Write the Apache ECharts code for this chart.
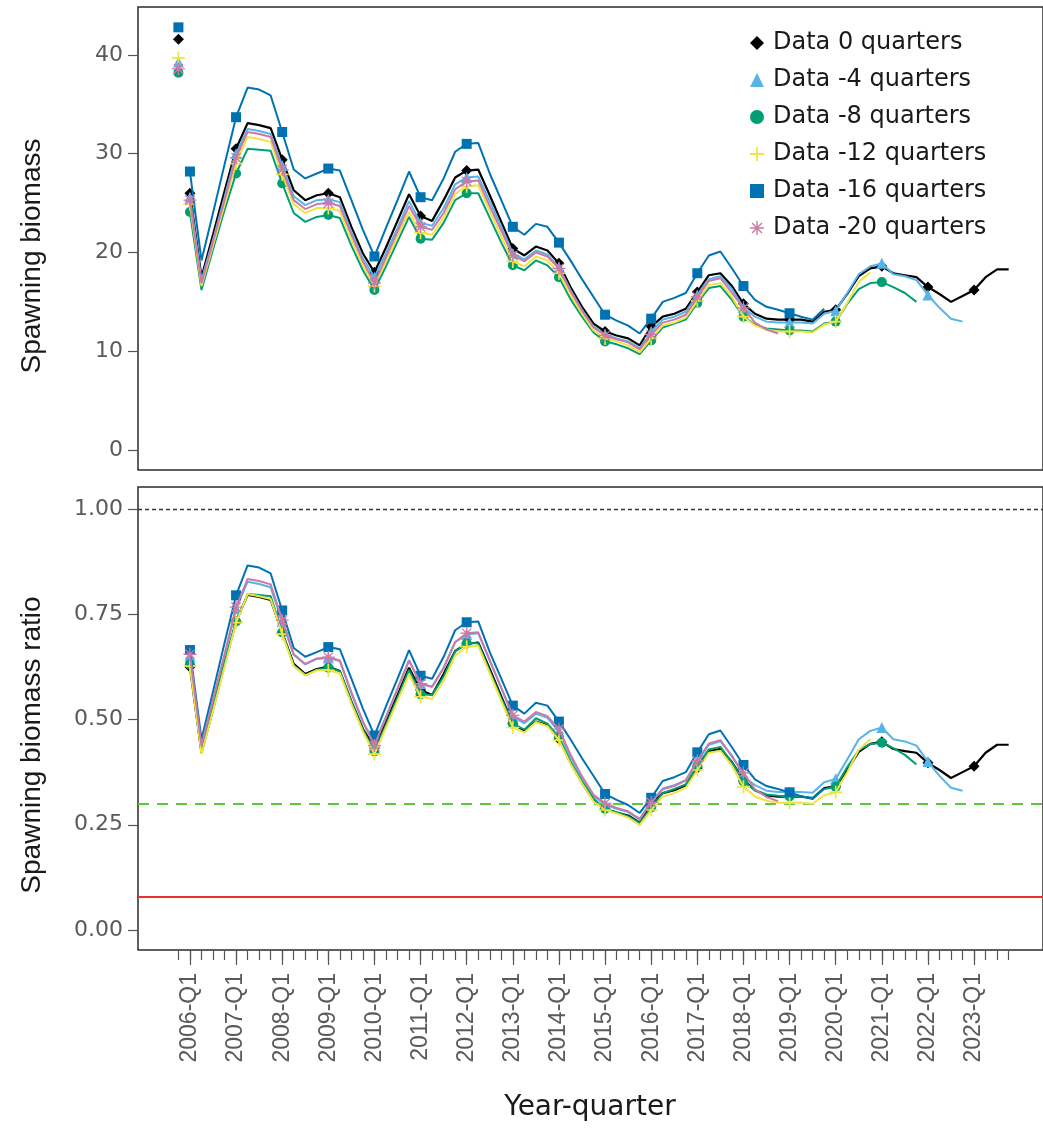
<!DOCTYPE html>
<html>
<head>
<meta charset="utf-8">
<script src="https://cdn.jsdelivr.net/npm/echarts@6/dist/echarts.min.js"></script>
<style>
  html, body { margin: 0; padding: 0; background: #ffffff; }
  #chart { width: 1043px; height: 1131px; }
</style>
</head>
<body>
<div id="chart"></div>
<script>
// ---- time axis: the unfished point sits one quarter before 2006-Q1 ----
const years = [2006, 2007, 2008, 2009, 2010, 2011, 2012, 2013, 2014, 2015,
               2016, 2017, 2018, 2019, 2020, 2021, 2022, 2023];
const quarters = ['2005-Q4'].concat(years.flatMap(y => [1, 2, 3, 4].map(q => y + '-Q' + q)));

const runNames  = ['Data 0 quarters', 'Data -4 quarters', 'Data -8 quarters',
                   'Data -12 quarters', 'Data -16 quarters', 'Data -20 quarters'];
const runColors = ['#000000', '#56B4E9', '#009E73', '#F0E442', '#0072B2', '#CC79A7'];

// unfished spawning biomass of each run
const virginSB = [41.6, 39.3, 38.2, 39.7, 42.8, 38.6];

// spawning biomass, quarterly from 2006-Q1
const sb_0 = [26.0, 17.5, 21.8, 26.2, 30.5, 33.1, 32.9, 32.6, 29.4, 26.3, 25.3, 25.8,
  26.0, 25.6, 22.6, 19.9, 18.0, 20.5, 23.2, 25.9, 23.7, 23.2, 25.3, 27.6,
  28.3, 28.4, 25.8, 23.1, 20.4, 19.7, 20.6, 20.2, 18.9, 16.5, 14.5, 12.8,
  12.0, 11.6, 11.3, 10.6, 12.5, 13.5, 13.8, 14.3, 16.0, 17.7, 17.9, 16.6,
  14.8, 13.8, 13.3, 13.2, 13.2, 13.2, 13.0, 14.0, 14.2, 15.8, 17.6, 18.4,
  18.6, 17.9, 17.7, 17.5, 16.5, 15.8, 15.0, 15.6, 16.2, 17.5, 18.3, 18.3];
const sb_m4 = [25.6, 17.2, 21.3, 25.6, 30.0, 32.5, 32.3, 32.0, 28.8, 25.7, 24.8, 25.3,
  25.4, 25.1, 22.1, 19.4, 17.5, 19.9, 22.5, 25.2, 23.0, 22.7, 24.5, 26.9,
  27.6, 27.7, 25.2, 22.6, 19.9, 19.3, 20.2, 19.8, 18.5, 16.2, 14.2, 12.5,
  11.7, 11.3, 11.0, 10.3, 12.0, 13.2, 13.5, 14.0, 15.7, 17.3, 17.6, 16.3,
  14.4, 13.5, 13.0, 12.9, 12.9, 12.9, 12.8, 13.8, 14.1, 15.9, 17.8, 18.6,
  18.9, 17.8, 17.6, 17.2, 15.7, 14.4, 13.3, 13.0];
const sb_m8 = [24.1, 16.2, 20.3, 24.3, 28.0, 30.5, 30.4, 30.3, 27.0, 24.0, 23.1, 23.6,
  23.8, 23.5, 20.7, 18.2, 16.2, 18.6, 21.1, 23.6, 21.4, 21.3, 23.0, 25.3,
  26.0, 26.0, 23.5, 21.0, 18.7, 18.2, 19.2, 18.7, 17.5, 15.3, 13.5, 11.9,
  11.0, 10.7, 10.3, 9.7, 11.1, 12.4, 12.8, 13.2, 14.9, 16.4, 16.6, 15.2,
  13.5, 12.7, 12.3, 12.2, 12.1, 12.1, 12.0, 12.8, 13.0, 14.8, 16.3, 16.9,
  17.0, 16.5, 15.9, 15.0];
const sb_m12 = [24.9, 16.6, 20.7, 24.8, 29.0, 31.7, 31.5, 31.2, 27.9, 24.9, 24.0, 24.5,
  24.5, 24.2, 21.3, 18.7, 16.6, 19.1, 21.6, 24.1, 22.0, 21.8, 23.5, 25.9,
  26.7, 26.8, 24.2, 21.6, 19.1, 18.6, 19.6, 19.2, 17.9, 15.7, 13.8, 12.1,
  11.3, 11.0, 10.6, 9.9, 11.3, 12.6, 12.9, 13.4, 15.1, 16.7, 16.9, 15.5,
  13.5, 12.6, 12.2, 12.0, 12.0, 12.0, 11.9, 12.7, 13.0, 14.9, 17.0, 18.0];
const sb_m16 = [28.2, 19.2, 24.0, 28.9, 33.7, 36.7, 36.5, 35.9, 32.2, 28.4, 27.5, 28.0,
  28.5, 28.3, 25.3, 22.3, 19.6, 22.5, 25.3, 28.2, 25.6, 25.3, 27.5, 30.2,
  31.0, 31.1, 28.0, 25.3, 22.6, 21.8, 22.9, 22.6, 21.0, 19.2, 17.3, 15.5,
  13.7, 13.1, 12.6, 11.8, 13.3, 15.0, 15.4, 15.9, 17.9, 19.7, 20.1, 18.4,
  16.6, 15.2, 14.5, 14.2, 13.85, 13.5, 13.2, 14.3];
const sb_m20 = [25.3, 16.9, 21.1, 25.3, 29.6, 32.2, 32.0, 31.7, 28.4, 25.3, 24.4, 24.9,
  25.0, 24.7, 21.8, 19.1, 16.9, 19.5, 22.1, 24.7, 22.6, 22.3, 24.0, 26.4,
  27.2, 27.3, 24.7, 22.2, 19.7, 19.1, 20.0, 19.6, 18.4, 16.1, 14.1, 12.4,
  11.6, 11.2, 10.9, 10.2, 11.7, 12.9, 13.2, 13.7, 15.5, 17.1, 17.4, 15.9,
  14.4, 12.9, 12.2, 11.8];

// spawning biomass ratio (SB / SB0), quarterly from 2006-Q1
const ratio_0 = [0.625, 0.421, 0.524, 0.630, 0.733, 0.796, 0.791, 0.784, 0.707, 0.632, 0.608, 0.620,
  0.625, 0.615, 0.543, 0.478, 0.433, 0.493, 0.558, 0.623, 0.570, 0.558, 0.608, 0.663,
  0.680, 0.683, 0.620, 0.555, 0.490, 0.474, 0.495, 0.486, 0.454, 0.397, 0.349, 0.308,
  0.288, 0.279, 0.272, 0.255, 0.300, 0.325, 0.332, 0.344, 0.385, 0.425, 0.430, 0.399,
  0.356, 0.332, 0.320, 0.317, 0.317, 0.317, 0.313, 0.337, 0.341, 0.380, 0.423, 0.442,
  0.447, 0.430, 0.425, 0.421, 0.397, 0.380, 0.361, 0.375, 0.389, 0.421, 0.440, 0.440];
const ratio_m4 = [0.651, 0.438, 0.542, 0.651, 0.763, 0.827, 0.822, 0.814, 0.733, 0.654, 0.631, 0.644,
  0.646, 0.639, 0.562, 0.494, 0.445, 0.506, 0.573, 0.641, 0.585, 0.578, 0.623, 0.684,
  0.702, 0.705, 0.641, 0.575, 0.506, 0.491, 0.514, 0.504, 0.471, 0.412, 0.361, 0.318,
  0.298, 0.288, 0.280, 0.262, 0.305, 0.336, 0.344, 0.356, 0.400, 0.440, 0.448, 0.415,
  0.366, 0.344, 0.331, 0.328, 0.328, 0.328, 0.326, 0.351, 0.359, 0.405, 0.453, 0.473,
  0.481, 0.453, 0.448, 0.438, 0.400, 0.366, 0.338, 0.331];
const ratio_m8 = [0.631, 0.424, 0.531, 0.636, 0.733, 0.798, 0.796, 0.793, 0.707, 0.628, 0.605, 0.618,
  0.623, 0.615, 0.542, 0.476, 0.424, 0.487, 0.552, 0.618, 0.560, 0.558, 0.602, 0.662,
  0.681, 0.681, 0.615, 0.550, 0.490, 0.476, 0.503, 0.490, 0.458, 0.401, 0.353, 0.312,
  0.288, 0.280, 0.270, 0.254, 0.291, 0.325, 0.335, 0.346, 0.390, 0.429, 0.435, 0.398,
  0.353, 0.332, 0.322, 0.319, 0.317, 0.317, 0.314, 0.335, 0.340, 0.387, 0.427, 0.442,
  0.445, 0.432, 0.416, 0.393];
const ratio_m12 = [0.627, 0.418, 0.521, 0.625, 0.730, 0.798, 0.793, 0.786, 0.703, 0.627, 0.605, 0.617,
  0.617, 0.610, 0.537, 0.471, 0.418, 0.481, 0.544, 0.607, 0.554, 0.549, 0.592, 0.652,
  0.673, 0.675, 0.610, 0.544, 0.481, 0.469, 0.494, 0.484, 0.451, 0.395, 0.348, 0.305,
  0.285, 0.277, 0.267, 0.249, 0.285, 0.317, 0.325, 0.338, 0.380, 0.421, 0.426, 0.390,
  0.340, 0.317, 0.307, 0.302, 0.302, 0.302, 0.300, 0.320, 0.327, 0.375, 0.428, 0.453];
const ratio_m16 = [0.665, 0.453, 0.566, 0.682, 0.795, 0.866, 0.861, 0.847, 0.759, 0.670, 0.649, 0.660,
  0.672, 0.667, 0.597, 0.526, 0.462, 0.531, 0.597, 0.665, 0.604, 0.597, 0.649, 0.712,
  0.731, 0.733, 0.660, 0.597, 0.533, 0.514, 0.540, 0.533, 0.495, 0.453, 0.408, 0.366,
  0.323, 0.309, 0.297, 0.278, 0.314, 0.354, 0.363, 0.375, 0.422, 0.465, 0.474, 0.434,
  0.392, 0.358, 0.342, 0.335, 0.327, 0.318, 0.311, 0.337];
const ratio_m20 = [0.655, 0.438, 0.547, 0.655, 0.767, 0.834, 0.829, 0.821, 0.736, 0.655, 0.632, 0.645,
  0.648, 0.640, 0.565, 0.495, 0.438, 0.505, 0.573, 0.640, 0.585, 0.578, 0.622, 0.684,
  0.705, 0.707, 0.640, 0.575, 0.510, 0.495, 0.518, 0.508, 0.477, 0.417, 0.365, 0.321,
  0.301, 0.290, 0.282, 0.264, 0.303, 0.334, 0.342, 0.355, 0.402, 0.443, 0.451, 0.412,
  0.373, 0.334, 0.316, 0.306];

// reference levels on the ratio panel: unfished, target, limit
const refLevels = [1.0, 0.30, 0.077];

// tick values
const sbTicks = [0, 10, 20, 30, 40];
const ratioTicks = [0, 0.25, 0.5, 0.75, 1.0];

const sbSeries = [sb_0, sb_m4, sb_m8, sb_m12, sb_m16, sb_m20];
const ratioSeries = [ratio_0, ratio_m4, ratio_m8, ratio_m12, ratio_m16, ratio_m20];

// ---- marker shapes ----
const PLUS = 'path://M-1.3,-10L1.3,-10L1.3,10L-1.3,10Z M-10,-1.3L10,-1.3L10,1.3L-10,1.3Z';
const ASTERISK = 'path://M-1,-10L1,-10L1,10L-1,10Z M-10,-1L10,-1L10,1L-10,1Z ' +
  'M-7.8,-6.4L-6.4,-7.8L7.8,6.4L6.4,7.8Z M6.4,-7.8L7.8,-6.4L-6.4,7.8L-7.8,6.4Z';
const runSymbols = ['diamond', 'triangle', 'circle', PLUS, 'rect', ASTERISK];
const runSymbolSizes = [11, 11, 10, 13, 10, 13];

// ---- layout ----
const GRID_LEFT = 138, GRID_W = 906;
const Q_PX = 11.544;              // pixels per quarter
const FIRST_Q1_PX = 190;          // pixel of 2006-Q1 (position 1)
const xMin = 1 - (FIRST_Q1_PX - GRID_LEFT) / Q_PX;
const xMax = xMin + GRID_W / Q_PX;

const allPositions = quarters.map((q, i) => i);
const q1Positions = allPositions.filter(i => quarters[i].endsWith('Q1'));

function isMarked(pos) {
  return pos === 0 || (Number.isInteger(pos) && quarters[pos] && quarters[pos].endsWith('Q1'));
}

function runSeries(k, values, axisIdx, virgin) {
  const data = [];
  if (virgin != null) {
    data.push([0, virgin]);
    data.push([0.5, '-']);        // unfished point stands alone
  }
  values.forEach((v, j) => data.push([j + 1, v]));
  const size = runSymbolSizes[k];
  return {
    type: 'line',
    name: runNames[k],
    xAxisIndex: axisIdx.x,
    yAxisIndex: axisIdx.y,
    data: data,
    symbol: runSymbols[k],
    symbolSize: val => isMarked(val[0]) ? size : 0,
    showSymbol: true,
    showAllSymbol: true,
    connectNulls: false,
    color: runColors[k],
    itemStyle: { color: runColors[k], borderWidth: 0 },
    lineStyle: { color: runColors[k], width: k === 0 ? 2.2 : 2 },
    emphasis: { disabled: true },
    z: 2 + k,
    animation: false
  };
}

const series = [];
sbSeries.forEach((vals, k) => series.push(runSeries(k, vals, { x: 0, y: 0 }, virginSB[k])));
ratioSeries.forEach((vals, k) => series.push(runSeries(k, vals, { x: 1, y: 1 }, null)));

series.push({
  type: 'line',
  name: 'Reference levels',
  xAxisIndex: 1,
  yAxisIndex: 1,
  data: [],
  z: 1,
  markLine: {
    silent: true,
    symbol: 'none',
    label: { show: false },
    animation: false,
    data: [
      { yAxis: refLevels[0], lineStyle: { color: '#333333', type: [4, 3], width: 1.3 } },
      { yAxis: refLevels[1], lineStyle: { color: '#5CC83A', type: [11, 8], width: 2.2 } },
      { yAxis: refLevels[2], lineStyle: { color: '#E8322B', type: 'solid', width: 2.2 } }
    ]
  }
});

const tickColor = '#555555';
const labelColor = '#5a5a5a';
const hiddenLine = { show: false, onZero: false };

const option = {
  backgroundColor: '#ffffff',
  animation: false,
  grid: [
    { left: GRID_LEFT, top: 7, width: GRID_W, height: 463, show: true,
      borderColor: '#2b2b2b', borderWidth: 1.5, backgroundColor: 'transparent' },
    { left: GRID_LEFT, top: 487, width: GRID_W, height: 463, show: true,
      borderColor: '#2b2b2b', borderWidth: 1.5, backgroundColor: 'transparent' }
  ],
  xAxis: [
    { gridIndex: 0, type: 'value', min: xMin, max: xMax, position: 'bottom',
      axisLine: hiddenLine, axisTick: { show: false }, axisLabel: { show: false },
      splitLine: { show: false } },
    { gridIndex: 1, type: 'value', min: xMin, max: xMax, position: 'bottom',
      axisLine: hiddenLine, splitLine: { show: false },
      axisTick: { show: true, inside: false, length: 15, customValues: q1Positions,
                  lineStyle: { color: tickColor, width: 1.2 } },
      axisLabel: { show: true, customValues: q1Positions, formatter: v => quarters[v],
                   rotate: 90, margin: 23, fontSize: 23, color: labelColor,
                   fontFamily: '"Liberation Sans", Arial, sans-serif' } },
    { gridIndex: 1, type: 'value', min: xMin, max: xMax, position: 'bottom', offset: 0,
      axisLine: hiddenLine, splitLine: { show: false },
      axisTick: { show: true, inside: false, length: 10, customValues: allPositions,
                  lineStyle: { color: tickColor, width: 1.2 } },
      axisLabel: { show: false } }
  ],
  yAxis: [
    { gridIndex: 0, type: 'value', min: -2.025, max: 44.86, position: 'left',
      axisLine: hiddenLine, splitLine: { show: false },
      axisTick: { show: true, inside: false, length: 10, customValues: sbTicks,
                  lineStyle: { color: tickColor, width: 1.2 } },
      axisLabel: { customValues: sbTicks, margin: 15, fontSize: 22, color: labelColor,
                   fontFamily: '"DejaVu Sans", sans-serif' } },
    { gridIndex: 1, type: 'value', min: -0.0475, max: 1.0523, position: 'left',
      axisLine: hiddenLine, splitLine: { show: false },
      axisTick: { show: true, inside: false, length: 10, customValues: ratioTicks,
                  lineStyle: { color: tickColor, width: 1.2 } },
      axisLabel: { customValues: ratioTicks, margin: 15, fontSize: 22, color: labelColor,
                   formatter: v => v.toFixed(2),
                   fontFamily: '"DejaVu Sans", sans-serif' } }
  ],
  legend: {
    orient: 'vertical',
    left: 750,
    top: 31,
    padding: 0,
    itemGap: 13,
    itemWidth: 14,
    itemHeight: 14,
    selectedMode: false,
    data: runNames.map((n, k) => ({ name: n, icon: runSymbols[k] })),
    textStyle: { fontSize: 24, lineHeight: 24, color: '#1a1a1a',
                 fontFamily: '"DejaVu Sans", sans-serif', padding: [0, 0, 0, 4] }
  },
  graphic: [
    { type: 'text', x: 32, y: 256, rotation: Math.PI / 2, silent: true,
      style: { text: 'Spawning biomass', fill: '#1a1a1a', align: 'center', verticalAlign: 'middle',
               font: '28px "Liberation Sans", Arial, sans-serif' } },
    { type: 'text', x: 32, y: 745, rotation: Math.PI / 2, silent: true,
      style: { text: 'Spawning biomass ratio', fill: '#1a1a1a', align: 'center', verticalAlign: 'middle',
               font: '28px "Liberation Sans", Arial, sans-serif' } },
    { type: 'text', x: 590, y: 1108, silent: true,
      style: { text: 'Year-quarter', fill: '#1a1a1a', align: 'center', verticalAlign: 'middle',
               font: '28px "DejaVu Sans", sans-serif' } }
  ],
  series: series
};

const chart = echarts.init(document.getElementById('chart'), null, { renderer: 'canvas' });
chart.setOption(option);
</script>
</body>
</html>
